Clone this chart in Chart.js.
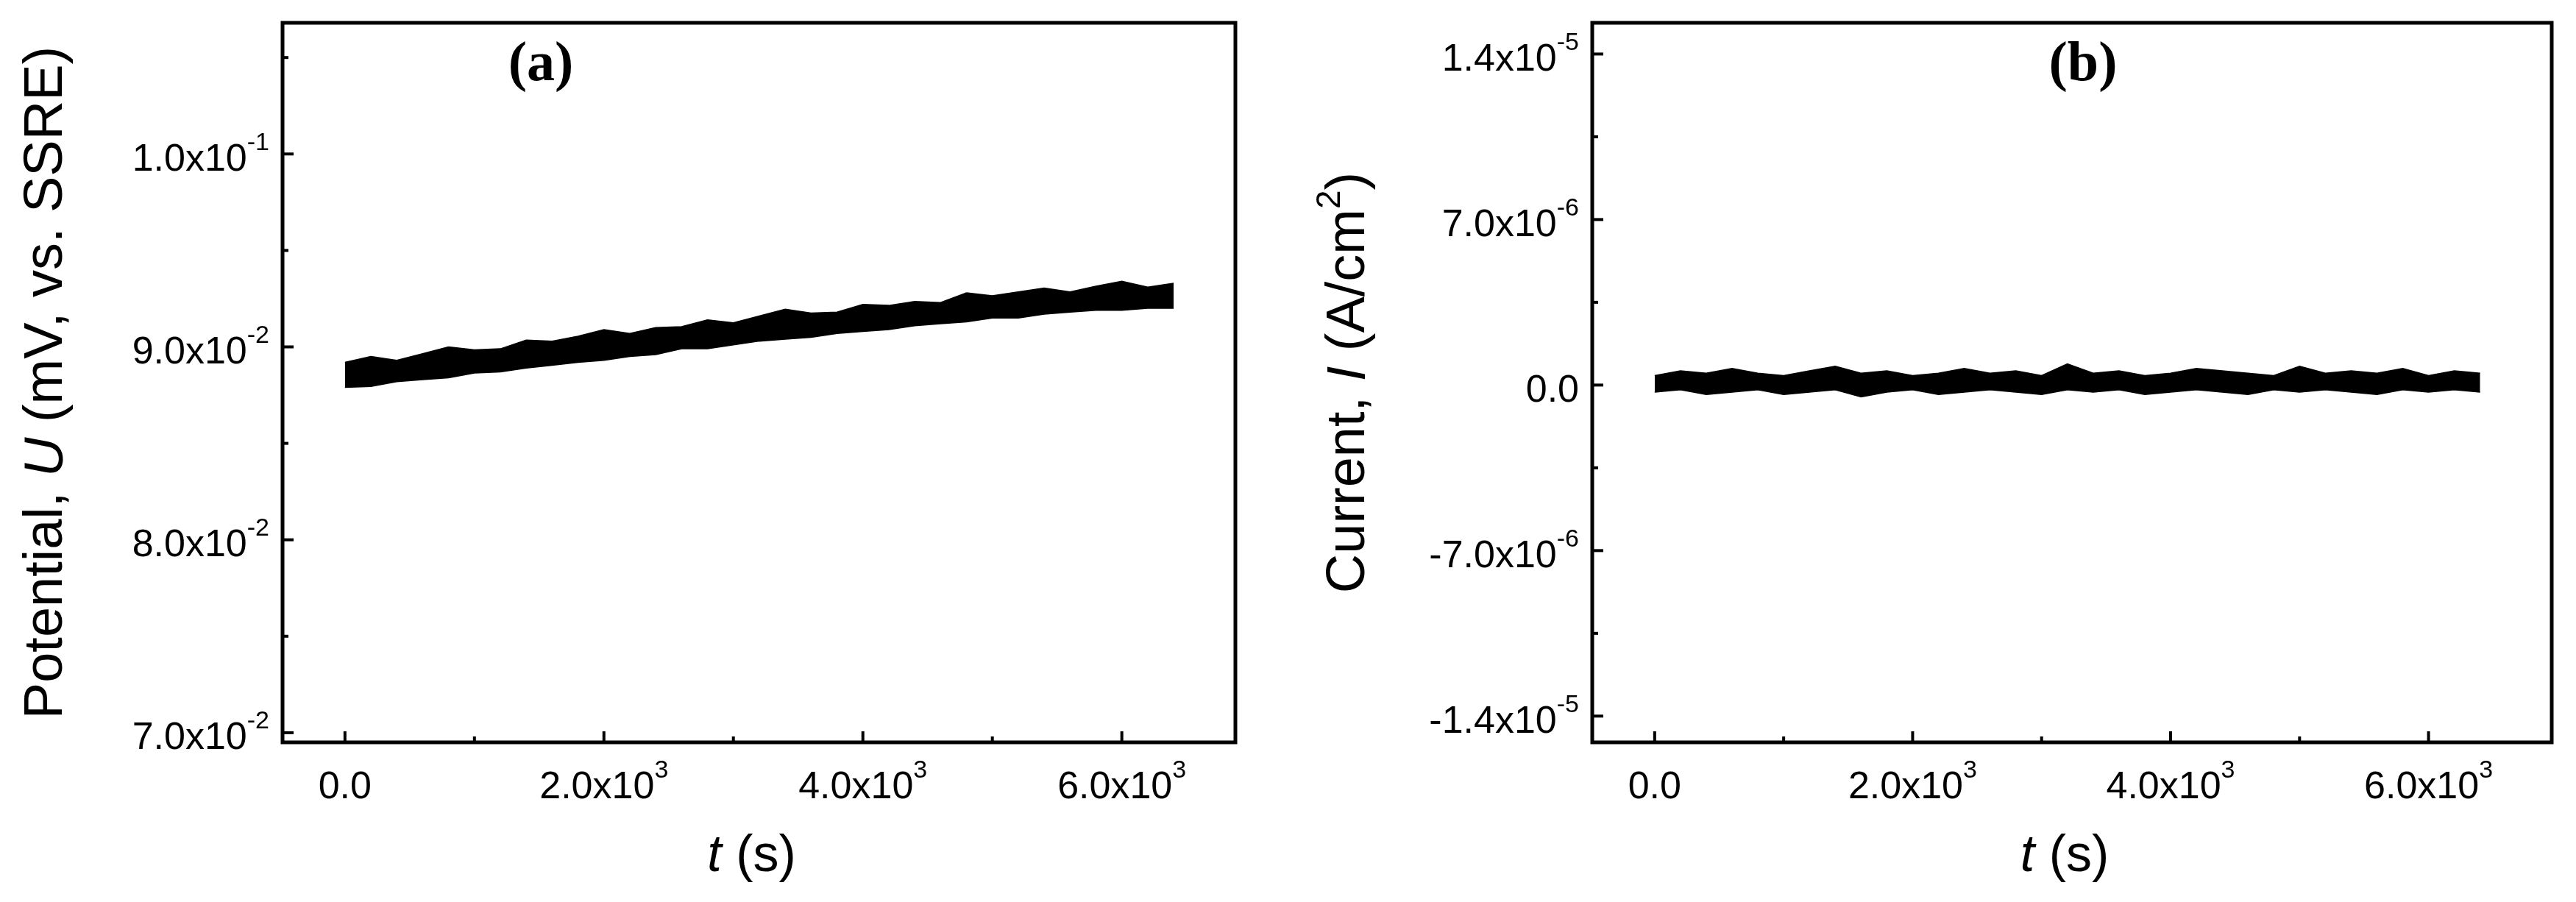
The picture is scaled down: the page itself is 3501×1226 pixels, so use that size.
<!DOCTYPE html>
<html><head><meta charset="utf-8">
<script src="https://cdn.jsdelivr.net/npm/chart.js@4/dist/chart.umd.min.js"></script>
<style>html,body{margin:0;padding:0;background:#fff;}#w{display:flex;width:3501px;height:1226px;}canvas{display:block;}</style>
</head><body><div id="w"><div style="width:1750px;height:1226px"><canvas id="a"></canvas></div><div style="width:1751px;height:1226px"><canvas id="b"></canvas></div></div>
<script>
const timeS = [0,200,400,600,800,1000,1200,1400,1600,1800,2000,2200,2400,2600,2800,3000,3200,3400,3600,3800,4000,4200,4400,4600,4800,5000,5200,5400,5600,5800,6000,6200,6400];
const potentialUpper = [.0892,.0895,.0893,.08965,.0900,.08985,.0899,.09035,.0903,.09055,.0909,.0907,.0910,.09105,.0914,.09125,.0916,.09195,.09175,.0918,.0922,.09215,.09235,.0923,.0928,.09265,.09285,.09305,.09285,.09315,.0934,.0931,.0933];
const potentialLower = [.0879,.08795,.0882,.0883,.0884,.08865,.0887,.0889,.08905,.0892,.0893,.0895,.0896,.0899,.0899,.0901,.0903,.0904,.0905,.0907,.0908,.0909,.0911,.0912,.0913,.0915,.0915,.0917,.0918,.0919,.0919,.0920,.0920];
const currentUpper = [4e-7,6e-7,5e-7,7e-7,5e-7,4e-7,6e-7,8e-7,5e-7,6e-7,4e-7,5e-7,7e-7,5e-7,6e-7,4e-7,9e-7,5e-7,6e-7,4e-7,5e-7,7e-7,6e-7,5e-7,4e-7,8e-7,5e-7,6e-7,5e-7,7e-7,4e-7,6e-7,5e-7];
const currentLower = [-3e-7,-2e-7,-4e-7,-3e-7,-2e-7,-4e-7,-3e-7,-2e-7,-5e-7,-3e-7,-2e-7,-4e-7,-3e-7,-2e-7,-3e-7,-4e-7,-2e-7,-3e-7,-2e-7,-4e-7,-3e-7,-2e-7,-3e-7,-4e-7,-2e-7,-3e-7,-2e-7,-3e-7,-4e-7,-2e-7,-3e-7,-2e-7,-3e-7];
const xMajor = [[0,'0.0',null],[2000,'2.0x10','3'],[4000,'4.0x10','3'],[6000,'6.0x10','3']];
const xMinor = [1000,3000,5000];
const yMajorA = [[0.07,'7.0x10','-2'],[0.08,'8.0x10','-2'],[0.09,'9.0x10','-2'],[0.10,'1.0x10','-1']];
const yMinorA = [0.075,0.085,0.095,0.105];
const yMajorB = [[-1.4e-5,'-1.4x10','-5'],[-7e-6,'-7.0x10','-6'],[0,'0.0',null],[7e-6,'7.0x10','-6'],[1.4e-5,'1.4x10','-5']];
const yMinorB = [-1.05e-5,-3.5e-6,3.5e-6,1.05e-5];

const F='"Liberation Sans", Arial, sans-serif';
function supText(ctx,x,y,base,sup,align){
  ctx.font='52px '+F; const bw=ctx.measureText(base).width;
  ctx.font='34px '+F; const sw=sup?ctx.measureText(sup).width:0;
  const tw=bw+sw; let x0 = align==='right'? x-tw : x-tw/2;
  ctx.textAlign='left'; ctx.textBaseline='middle';
  ctx.font='52px '+F; ctx.fillText(base,x0,y);
  if(sup){ctx.font='34px '+F; ctx.fillText(sup,x0+bw,y-23);}
}
function mk(id,cfg){
  const deco={id:'deco',afterDraw(c){
    const ctx=c.ctx,a=c.chartArea,xs=c.scales.x,ys=c.scales.y;
    ctx.save();ctx.fillStyle='#000';ctx.strokeStyle='#000';
    ctx.lineWidth=5;ctx.strokeRect(a.left,a.top,a.right-a.left,a.bottom-a.top);
    ctx.lineWidth=4;
    xMajor.forEach(([v,b,s])=>{const p=xs.getPixelForValue(v);ctx.beginPath();ctx.moveTo(p,a.bottom);ctx.lineTo(p,a.bottom-15);ctx.stroke();supText(ctx,p,a.bottom+62,b,s,'center');});
    xMinor.forEach(v=>{const p=xs.getPixelForValue(v);ctx.beginPath();ctx.moveTo(p,a.bottom);ctx.lineTo(p,a.bottom-8);ctx.stroke();});
    cfg.yMajor.forEach(([v,b,s])=>{const p=ys.getPixelForValue(v);ctx.beginPath();ctx.moveTo(a.left,p);ctx.lineTo(a.left+15,p);ctx.stroke();supText(ctx,a.left-18,p+8,b,s,'right');});
    cfg.yMinor.forEach(v=>{const p=ys.getPixelForValue(v);ctx.beginPath();ctx.moveTo(a.left,p);ctx.lineTo(a.left+8,p);ctx.stroke();});
    ctx.textBaseline='middle';ctx.textAlign='left';
    ctx.font='italic 70px '+F;const w1=ctx.measureText('t').width;ctx.font='70px '+F;const w2=ctx.measureText(' (s)').width;
    const cx=(a.left+a.right)/2-10;let x0=cx-(w1+w2)/2;
    ctx.font='italic 70px '+F;ctx.fillText('t',x0,1165);ctx.font='70px '+F;ctx.fillText(' (s)',x0+w1,1165);
    ctx.save();ctx.translate(cfg.ytx,(a.top+a.bottom)/2);ctx.rotate(-Math.PI/2);
    const parts=cfg.ytitle;let tot=0;parts.forEach(p=>{ctx.font=(p[1]||'')+' '+(p[2]||74)+'px '+F;p.w=ctx.measureText(p[0]).width;tot+=p.w;});
    let px=-tot/2;parts.forEach(p=>{ctx.font=(p[1]||'')+' '+(p[2]||74)+'px '+F;ctx.fillText(p[0],px,p[3]||0);px+=p.w;});
    ctx.restore();
    ctx.font='bold 76px "Liberation Serif", serif';ctx.textAlign='center';ctx.fillText(cfg.label,cfg.labx,89);
    ctx.restore();
  }};
  new Chart(document.getElementById(id),{type:'line',
    data:{labels:timeS,datasets:[
      {data:cfg.up,borderColor:'#000',borderWidth:1.5,pointRadius:0,tension:0,fill:false},
      {data:cfg.lo,borderColor:'#000',borderWidth:1.5,pointRadius:0,tension:0,fill:'-1',backgroundColor:'#000'}]},
    options:{responsive:true,maintainAspectRatio:false,animation:false,
      layout:{padding:{top:31,right:cfg.pr,bottom:0,left:0}},
      plugins:{legend:{display:false},tooltip:{enabled:false}},
      scales:{
        x:{type:'linear',min:cfg.xmin,max:cfg.xmax,ticks:{display:false},grid:{display:false},border:{display:false},afterFit:s=>{s.height=217;}},
        y:{type:'linear',min:cfg.ymin,max:cfg.ymax,ticks:{display:false},grid:{display:false},border:{display:false},afterFit:s=>{s.width=cfg.yw;}}
      }},plugins:[deco]});
}
mk('a',{up:potentialUpper,lo:potentialLower,xmin:-482,xmax:6877,ymin:0.0695,ymax:0.1068,yw:384,pr:71,yMajor:yMajorA,yMinor:yMinorA,ytx:64,label:'(a)',labx:735,
  ytitle:[['Potential, '],['U','italic'],[' (mV, vs. SSRE)']]});
mk('b',{up:currentUpper,lo:currentLower,xmin:-484,xmax:6955,ymin:-1.511e-5,ymax:1.532e-5,yw:414,pr:33,yMajor:yMajorB,yMinor:yMinorB,ytx:84,label:'(b)',labx:1081,
  ytitle:[['Current, '],['I','italic'],[' (A/cm'],['2','',46,-26],[')']]});
</script></body></html>
